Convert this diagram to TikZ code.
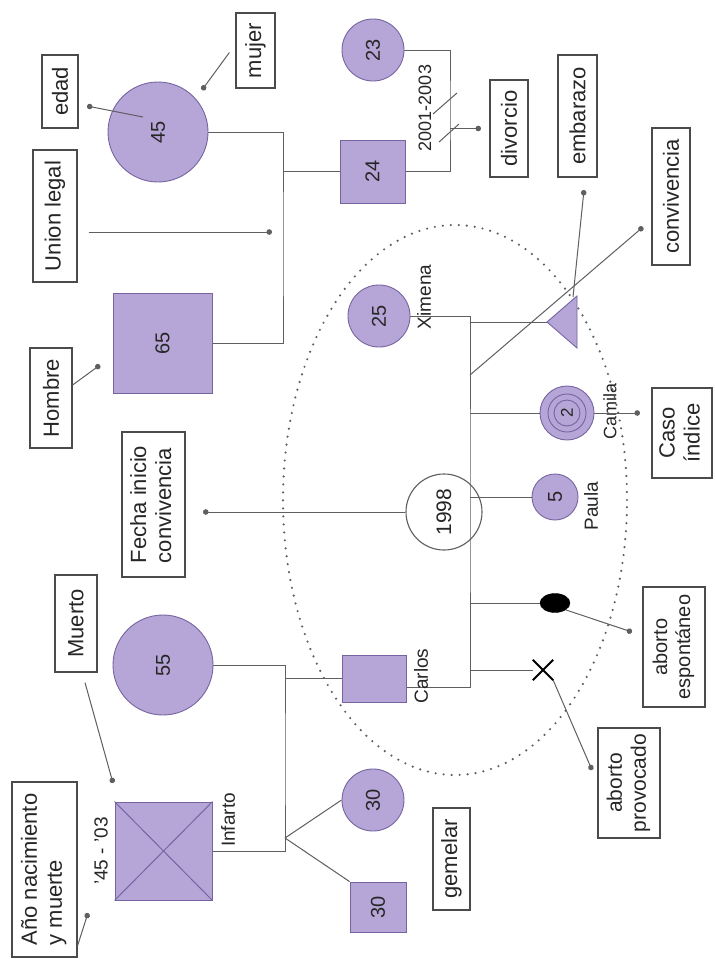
\documentclass[tikz,border=0pt]{standalone}
\usepackage{fontspec}
\setmainfont{Liberation Sans}
\usetikzlibrary{arrows.meta,shapes.geometric}
\definecolor{lil}{RGB}{182,166,216}
\definecolor{lilb}{RGB}{118,100,160}
\definecolor{ln}{RGB}{95,95,95}
\definecolor{bx}{RGB}{75,75,75}
\newcommand\rtxt[1]{\rotatebox{90}{#1}}
\newcommand\rtwo[3]{\rotatebox{90}{\begin{tabular}{@{}#1@{}}#2\\#3\end{tabular}}}
\begin{document}
\begin{tikzpicture}[x=1pt,y=-1pt,
  box/.style={draw=bx,line width=1.2pt,fill=white,inner sep=0pt,text=black!85,font=\fontsize{22}{25}\selectfont},
  per/.style={draw=lilb,fill=lil,line width=0.9pt,inner sep=0pt,text=black!85,font=\fontsize{20}{22}\selectfont},
  lnk/.style={draw=ln,line width=1pt},
  ptr/.style={draw=ln,line width=1pt,-{Circle[length=5.5pt]}},
  lab/.style={inner sep=0pt,text=black!85,font=\fontsize{19}{21}\selectfont},
  ring/.style={draw=lilb,line width=0.9pt},
]
\useasboundingbox (0,0) rectangle (715,959);
\fill[white] (0,0) rectangle (715,959);

% dotted ellipse round the nuclear family
\draw[ln,line width=2.4pt,dash pattern=on 0pt off 8pt,line cap=round] (455,500) ellipse [x radius=172pt,y radius=275pt];

% ---------- coordinates ----------
\coordinate (cA) at (283,250);
\coordinate (dv) at (450,110);
\coordinate (sx) at (470,500);
\coordinate (cv0) at (470,375);
\coordinate (cq) at (285,760);
\coordinate (tw) at (285,838);
\coordinate (triA) at (547,322);
\coordinate (triT) at (573,297);
\coordinate (dEd) at (87,106);
\coordinate (dMu) at (202,90);
\coordinate (dHo) at (100,365);
\coordinate (dUl) at (272,232);
\coordinate (dFe) at (203,512);
\coordinate (dDi) at (481,128.5);
\coordinate (dCv) at (643,227);
\coordinate (dEm) at (584,190);
\coordinate (dCi) at (640,413);
\coordinate (dAe) at (632,632);
\coordinate (dAp) at (592,770);
\coordinate (dMt) at (113,783);
\coordinate (dAn) at (88,913);

% ---------- label boxes ----------
\node[box,minimum width=36pt,minimum height=73pt] (edad) at (60,91.5) {\rtxt{edad}};
\node[box,minimum width=39pt,minimum height=75pt] (mujer) at (255.5,50.5) {\rtxt{mujer}};
\node[box,minimum width=44pt,minimum height=132pt] (ul) at (55,216) {\rtxt{Union legal}};
\node[box,minimum width=42pt,minimum height=100pt] (hom) at (51,398) {\rtxt{Hombre}};
\node[box,minimum width=63pt,minimum height=145pt] (fecha) at (153.5,504.5) {\rtwo{l}{Fecha inicio}{convivencia}};
\node[box,minimum width=42pt,minimum height=97pt] (mue) at (76,623.5) {\rtxt{Muerto}};
\node[box,minimum width=65pt,minimum height=175pt] (ano) at (44.5,869.5) {\rtwo{l}{Año nacimiento}{y muerte}};
\node[box,minimum width=38pt,minimum height=97pt] (div) at (509,128.5) {\rtxt{divorcio}};
\node[box,minimum width=39pt,minimum height=122pt] (emb) at (577.5,116) {\rtxt{embarazo}};
\node[box,minimum width=38pt,minimum height=137pt] (conv) at (671,196.5) {\rtxt{convivencia}};
\node[box,minimum width=60pt,minimum height=90pt] (caso) at (682,433) {\rtwo{c}{Caso}{índice}};
\node[box,minimum width=62pt,minimum height=120pt,font=\fontsize{20}{23}\selectfont] (aesp) at (674,647) {\rtwo{c}{aborto}{espontáneo}};
\node[box,minimum width=62pt,minimum height=110pt,font=\fontsize{21}{24}\selectfont] (aprov) at (629,783) {\rtwo{c}{aborto}{provocado}};
\node[box,minimum width=37pt,minimum height=102pt] (gem) at (451.5,859) {\rtxt{gemelar}};

% ---------- structural lines ----------
\draw[lnk] (158,132) -| (cA) |- (162.5,343);
\draw[lnk] (cA |- 0,171.5) -- (372.5,171.5);
\draw[lnk] (373,50) -| (dv) |- (372.5,171.5);
\draw[lnk] (433,114) -- (457,93) (439,142) -- (459,124);
\draw[lnk] (163,665) -| (cq) |- (163.5,851);
\draw[lnk] (cq |- 0,678.5) -- (374,678.5);

% ---------- persons ----------
\node[per,circle,minimum size=100pt] (f45) at (158,132) {\rtxt{45}};
\node[per,minimum width=99pt,minimum height=100pt] (m65) at (162.5,343) {\rtxt{65}};
\node[per,minimum width=65pt,minimum height=63pt] (m24) at (372.5,171.5) {\rtxt{24}};
\node[per,circle,minimum size=62pt] (f23) at (373,50) {\rtxt{23}};
\node[draw=ln,line width=1.1pt,fill=white,circle,minimum size=76pt,inner sep=0pt,text=black!85,font=\fontsize{21}{23}\selectfont] (y98) at (444,512) {\rtxt{1998}};
% couple line Ximena - Carlos (drawn over the 1998 circle)
\draw[lnk] (379,316) -| (sx) |- (374,687);
\node[per,circle,minimum size=62pt] (f25) at (379,316) {\rtxt{25}};
\filldraw[draw=lilb,fill=lil,line width=0.9pt] (triA) -- (577,296) -- (577,348) -- cycle;
\node[per,circle,minimum size=54pt,font=\fontsize{17}{19}\selectfont] (cam) at (567,413) {\rtxt{2}};
\draw[ring] (cam.center) circle[radius=19pt];
\draw[ring] (cam.center) circle[radius=13pt];
\node[per,circle,minimum size=46pt] (pau) at (555,497) {\rtxt{5}};
\node[ellipse,fill=black,draw=black,minimum width=30pt,minimum height=19pt,inner sep=0pt] (ov) at (555,603) {};
\node[minimum size=20pt,inner sep=0pt] (xab) at (543,670) {};
\draw[black,line width=1.8pt] (xab.north west) -- (xab.south east) (xab.north east) -- (xab.south west);
\node[per,minimum width=64pt,minimum height=47pt] (carl) at (374,678.5) {};
\node[per,circle,minimum size=100pt] (f55) at (163,665) {\rtxt{55}};
\node[per,minimum width=97pt,minimum height=98pt] (xq) at (163.5,851) {};
\draw[lilb,line width=1pt] (xq.north west) -- (xq.south east) (xq.north east) -- (xq.south west);
\node[per,circle,minimum size=62pt] (f30) at (373,800) {\rtxt{30}};
\node[per,minimum width=56pt,minimum height=50pt] (m30) at (378,907) {\rtxt{30}};

% children of Carlos and Ximena
\draw[lnk] (sx |- triA) -- (triA);
\draw[lnk] (sx |- cam.west) -- (cam.west);
\draw[lnk] (sx |- pau.west) -- (pau.west);
\draw[lnk] (sx |- ov.west) -- (ov.west);
\draw[lnk] (sx |- xab.west) -- (xab.west);
% twins
\draw[lnk] (tw) -- (f30.west);
\draw[lnk] (tw) -- (m30.north west);

% ---------- small labels ----------
\node[lab,font=\fontsize{18}{20}\selectfont] (ldiv) at (425,108) {\rtxt{2001-2003}};
\node[lab] (lxi) at (424,297) {\rtxt{Ximena}};
\node[lab] (lca) at (421,676) {\rtxt{Carlos}};
\node[lab] (lpa) at (591,506) {\rtxt{Paula}};
\node[lab,font=\fontsize{18}{20}\selectfont] (lcm) at (610,411) {\rtxt{Camila}};
\node[lab] (lin) at (228,820) {\rtxt{Infarto}};
\node[lab] (lye) at (101,851) {\rtxt{'45 - '03}};

% ---------- pointers ----------
\draw[ptr] ([xshift=-15pt,yshift=15pt]f45.center) -- (dEd);
\draw[ptr] ([xshift=-6pt,yshift=-2pt]mujer.west) -- (dMu);
\draw[ptr] ([xshift=11pt,yshift=-16pt]ul.east) -- (dUl);
\draw[ptr] ([yshift=13pt]hom.east) -- (dHo);
\draw[ptr] (y98.west) -- (dFe);
\draw[ptr] (dv |- dDi) -- (dDi);
\draw[ptr] (cv0) -- (dCv);
\draw[ptr] (triT) -- (dEm);
\draw[ptr] (cam.east) -- (dCi);
\draw[ptr] (ov.south east) -- (dAe);
\draw[ptr] (xab.south east) -- (dAp);
\draw[ptr] ([xshift=9pt,yshift=-10pt]mue.south) -- (dMt);
\draw[ptr] ([yshift=12pt]ano.south east) -- (dAn);
\end{tikzpicture}
\end{document}
